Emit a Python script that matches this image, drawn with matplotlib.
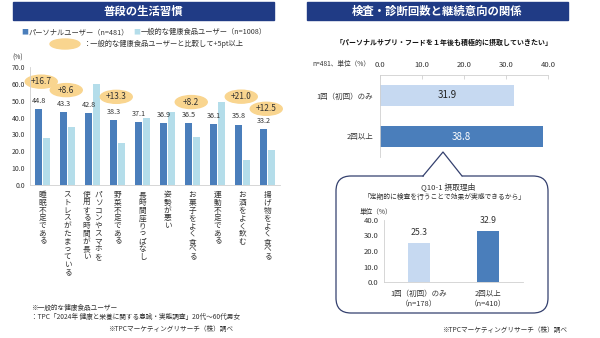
import matplotlib
matplotlib.use('Agg')
import matplotlib.pyplot as plt
from matplotlib.patches import Rectangle, Ellipse, FancyBboxPatch
import numpy as np

plt.rcParams['font.family'] = ['Noto Sans CJK JP', 'DejaVu Sans']

# --- left: everyday habits ---
habits = ['睡眠不足である', 'ストレスがたまっている', 'パソコンやスマホを\n使用する時間が長い',
          '野菜不足である', '長時間座りっぱなし', '姿勢が悪い', 'お菓子をよく食べる',
          '運動不足である', 'お酒をよく飲む', '揚げ物をよく食べる']
personal = [44.8, 43.3, 42.8, 38.3, 37.1, 36.9, 36.5, 36.1, 35.8, 33.2]
general = [28.1, 34.7, 60.2, 25.0, 39.5, 43.5, 28.3, 49.0, 14.8, 20.7]
yticks_left = [0, 10, 20, 30, 40, 50, 60, 70]

# --- right: intention to continue by number of checkups ---
visit_cats = ['1回（初回）のみ', '2回以上']
continue_rate = [31.9, 38.8]
xticks_right = [0, 10, 20, 30, 40]
reason_cats = ['1回（初回）のみ\n（n=178）', '2回以上\n（n=410）']
reason_rate = [25.3, 32.9]
yticks_reason = [0, 10, 20, 30, 40]

NAVY = '#203B85'
DARK = '#4A7EBB'
LIGHT = '#B4DDEA'
LIGHT2 = '#C6D9F1'
ORANGE = '#F9D58F'
GRAY = '#D0D0D0'
TXT = '#333333'

W, H = 600, 338


def fr(x0, y0, x1, y1):
    return [x0 / W, 1 - y1 / H, (x1 - x0) / W, (y1 - y0) / H]


fig = plt.figure(figsize=(6, 3.38), dpi=100)
bg = fig.add_axes([0, 0, 1, 1])
bg.set_xlim(0, W)
bg.set_ylim(H, 0)
bg.axis('off')

# title bars
bg.add_patch(Rectangle((13, 2), 261, 18, color=NAVY))
bg.text(143.5, 11, '普段の生活習慣', color='white', fontsize=8.2, fontweight='bold',
        ha='center', va='center')
bg.add_patch(Rectangle((307, 2), 261, 18, color=NAVY))
bg.text(437, 11, '検査・診断回数と継続意向の関係', color='white', fontsize=8.2,
        fontweight='bold', ha='center', va='center')

# legend (left)
bg.text(25, 32, '■', color=DARK, fontsize=5, ha='center', va='center')
bg.text(29, 32, 'パーソナルユーザー（n=481）', color=TXT, fontsize=5.2, va='center')
bg.text(137, 32, '■', color=LIGHT, fontsize=5, ha='center', va='center')
bg.text(141, 32, '一般的な健康食品ユーザー（n=1008）', color=TXT, fontsize=5.2, va='center')
bg.add_patch(Ellipse((65, 44), 30, 10, color=ORANGE))
bg.text(84, 44, '：一般的な健康食品ユーザーと比較して+5pt以上', color=TXT, fontsize=5.2,
        va='center')
bg.text(12, 58, '(%)', color=TXT, fontsize=4.8, va='center')

# footnotes (left)
bg.text(31, 308, '※一般的な健康食品ユーザー', color=TXT, fontsize=4.8, va='center')
bg.text(31, 317, '：TPC「2024年 健康と栄養に関する意識・実態調査」20代～60代男女', color=TXT,
        fontsize=4.8, va='center')
bg.text(233, 329, '※TPCマーケティングリサーチ（株）調べ', color=TXT, fontsize=4.8,
        ha='right', va='center')

# left bar chart
ax = fig.add_axes(fr(30, 67, 280, 185))
ax.patch.set_alpha(0)
x = np.arange(len(habits))
ax.bar(x - 0.15, personal, 0.27, color=DARK)
ax.bar(x + 0.15, general, 0.27, color=LIGHT)
ax.set_xlim(-0.5, len(habits) - 0.5)
ax.set_ylim(0, 70)
ax.set_yticks(yticks_left)
ax.set_yticklabels([f'{v:.1f}' for v in yticks_left], fontsize=5, color=TXT)
ax.tick_params(axis='y', length=0, pad=3.5)
ax.set_xticks([])
for s in ['top', 'right']:
    ax.spines[s].set_visible(False)
for s in ['left', 'bottom']:
    ax.spines[s].set_color(GRAY)
    ax.spines[s].set_linewidth(0.6)

badge_lift = {0: 16.5, 1: 13, 3: 14, 6: 12.7, 8: 16.6, 9: 12}
for i, (p, g) in enumerate(zip(personal, general)):
    ax.annotate(f'{p:.1f}', (i - 0.15, p), xytext=(0, 3), textcoords='offset points',
                ha='center', va='bottom', fontsize=5.2, color=TXT)
    d = round(p - g, 1)
    if d >= 5:
        cy = p + badge_lift.get(i, 14)
        ax.add_patch(Ellipse((i - 0.05, cy), 1.28, 7.7, color=ORANGE, clip_on=False))
        ax.text(i - 0.05, cy, f'+{d:.1f}', ha='center', va='center', fontsize=6,
                color=TXT, clip_on=False)

# vertical category labels (columns right to left)
pitch = 5.6
for i, lab in enumerate(habits):
    cols = lab.split('\n')
    n = len(cols)
    for j, col in enumerate(cols):
        dx = ((n - 1) / 2 - j) * 8.6
        for k, ch in enumerate(col):
            ax.annotate(ch, (i, 0), xytext=(dx, -7.2 - k * pitch), textcoords='offset points',
                        ha='center', va='center', fontsize=5.5, color=TXT,
                        annotation_clip=False)

# right: horizontal bars
bg.text(370, 64, 'n=481、単位（%）', color=TXT, fontsize=4.8, ha='right', va='center')
bg.text(444, 42, '「パーソナルサプリ・フードを１年後も積極的に摂取していきたい」', color='#111111',
        fontsize=5, fontweight='bold', ha='center', va='center')

ax2 = fig.add_axes(fr(380, 75, 548, 157))
ax2.patch.set_alpha(0)
yy = np.arange(len(visit_cats))
ax2.barh(yy, continue_rate, height=0.5, color=[LIGHT2, DARK])
ax2.set_ylim(len(visit_cats) - 0.5, -0.5)
ax2.set_xlim(0, 40)
ax2.xaxis.tick_top()
ax2.set_xticks(xticks_right)
ax2.set_xticklabels([f'{v:.1f}' for v in xticks_right], fontsize=5.5, color=TXT)
ax2.tick_params(axis='x', direction='in', length=3, color=GRAY, width=0.6, pad=4.5)
ax2.set_yticks(yy)
ax2.set_yticklabels(visit_cats, fontsize=5.4, color=TXT)
ax2.tick_params(axis='y', length=0, pad=5)
for s in ['right', 'bottom']:
    ax2.spines[s].set_visible(False)
for s in ['left', 'top']:
    ax2.spines[s].set_color(GRAY)
    ax2.spines[s].set_linewidth(0.6)
for i, v in enumerate(continue_rate):
    ax2.text(v / 2, i, f'{v:.1f}', ha='center', va='center', fontsize=7,
             color='white' if i == 1 else '#222222')

# callout bubble
bg.add_patch(FancyBboxPatch((336, 176), 212, 137, boxstyle='round,pad=0,rounding_size=15',
                            fc='white', ec='#34406E', lw=0.9))
bg.plot([424.5, 460.5], [176, 176], color='white', lw=1.6)
bg.plot([423, 443, 462], [176, 152, 176], color='#34406E', lw=0.9)
bg.text(448, 187, 'Q10-1 摂取理由', color=TXT, fontsize=5.6, ha='center', va='center')
bg.text(445, 197, '「定期的に検査を行うことで効果が実感できるから」', color=TXT, fontsize=4.9,
        ha='center', va='center')
bg.text(360, 212, '単位（%）', color=TXT, fontsize=4.8, va='center')

ax3 = fig.add_axes(fr(384, 220, 523, 282))
ax3.patch.set_alpha(0)
xx = np.arange(len(reason_cats))
ax3.bar(xx, reason_rate, width=0.32, color=[LIGHT2, DARK])
ax3.set_xlim(-0.5, len(reason_cats) - 0.5)
ax3.set_ylim(0, 40)
ax3.set_yticks(yticks_reason)
ax3.set_yticklabels([f'{v:.1f}' for v in yticks_reason], fontsize=5.5, color=TXT)
ax3.tick_params(axis='y', length=0, pad=4)
ax3.set_xticks(xx)
ax3.set_xticklabels(reason_cats, fontsize=5.4, color=TXT, linespacing=1.4)
ax3.tick_params(axis='x', length=0, pad=5.5)
for s in ['top', 'right']:
    ax3.spines[s].set_visible(False)
for s in ['left', 'bottom']:
    ax3.spines[s].set_color(GRAY)
    ax3.spines[s].set_linewidth(0.6)
for i, v in enumerate(reason_rate):
    ax3.annotate(f'{v:.1f}', (i, v), xytext=(0, 4), textcoords='offset points',
                 ha='center', va='bottom', fontsize=6.3, color=TXT)

bg.text(567, 330, '※TPCマーケティングリサーチ（株）調べ', color=TXT, fontsize=4.8,
        ha='right', va='center')

fig.savefig('out.png', dpi=100)
